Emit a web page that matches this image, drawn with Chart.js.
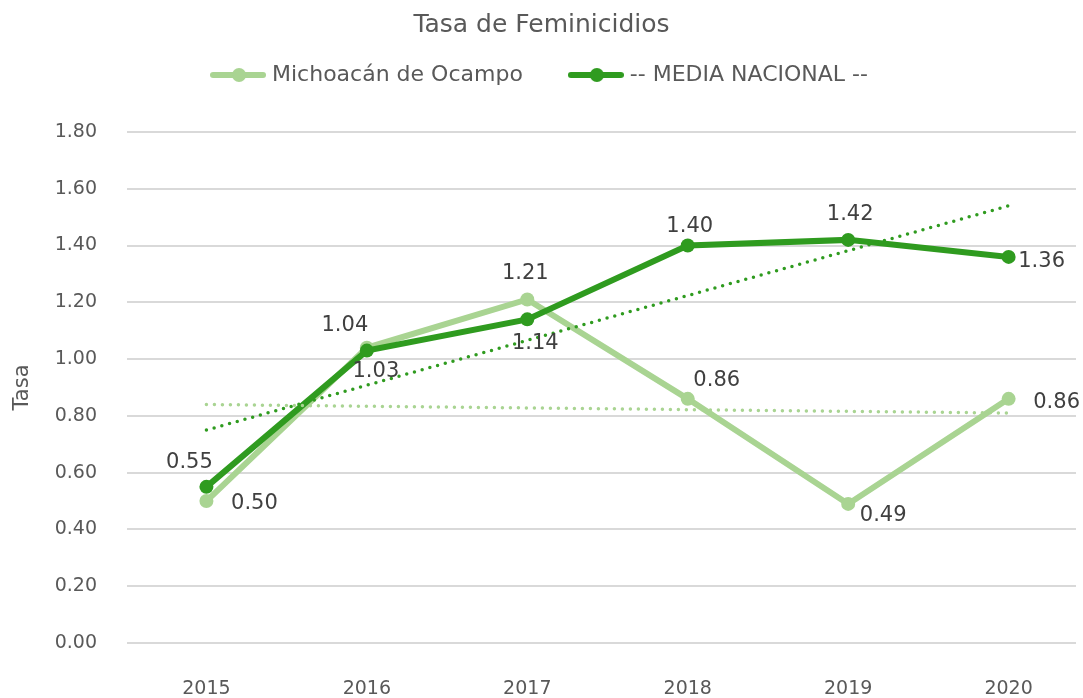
<!DOCTYPE html>
<html>
<head>
<meta charset="utf-8">
<script src="https://cdn.jsdelivr.net/npm/chart.js@4/dist/chart.umd.min.js"></script>
<style>
  html, body { margin: 0; padding: 0; background: #fff; overflow: hidden; }
  #wrap { width: 1083px; height: 698px; }
</style>
</head>
<body>
<div id="wrap"><canvas id="chart"></canvas></div>
<script>
// datos
const years = ['2015', '2016', '2017', '2018', '2019', '2020'];
const michoacan = [0.50, 1.04, 1.21, 0.86, 0.49, 0.86];
const mediaNacional = [0.55, 1.03, 1.14, 1.40, 1.42, 1.36];
// lineas de tendencia (extremos 2015 y 2020)
const trendMichoacan = [0.84, 0.81];
const trendNacional = [0.75, 1.54];
const yTicks = [0, 0.2, 0.4, 0.6, 0.8, 1.0, 1.2, 1.4, 1.6, 1.8];

const LIGHT = '#a9d492';
const DARK = '#2f9b1f';
const FONT = '"DejaVu Sans", sans-serif';
const TEXT = '#595959';

const toPoints = arr => arr.map((v, i) => ({ x: i, y: v }));
const trendPoints = arr => [{ x: 0, y: arr[0] }, { x: years.length - 1, y: arr[1] }];

// muestra de leyenda: linea con punto
function legendSample(color) {
    const c = document.createElement('canvas');
    c.width = 56; c.height = 16;
    const g = c.getContext('2d');
    g.strokeStyle = color;
    g.lineWidth = 6;
    g.lineCap = 'round';
    g.beginPath(); g.moveTo(3, 8); g.lineTo(53, 8); g.stroke();
    g.fillStyle = color;
    g.beginPath(); g.arc(29, 8, 7, 0, Math.PI * 2); g.fill();
    return c;
}

// etiquetas de valores junto a cada punto
const valueLabels = {
    id: 'valueLabels',
    afterDatasetsDraw(chart) {
        const ctx = chart.ctx;
        ctx.save();
        ctx.font = '21px ' + FONT;
        ctx.fillStyle = '#404040';
        ctx.textAlign = 'center';
        ctx.textBaseline = 'middle';
        chart.data.datasets.forEach((ds, di) => {
            if (!ds.labelOffsets) return;
            const meta = chart.getDatasetMeta(di);
            meta.data.forEach((el, i) => {
                const [dx, dy] = ds.labelOffsets[i];
                ctx.fillText(ds.data[i].y.toFixed(2), el.x + dx, el.y + dy);
            });
        });
        ctx.restore();
    }
};

// sube la leyenda hacia el titulo sin cambiar el area del grafico
const legendShift = {
    id: 'legendShift',
    afterLayout(chart) {
        const lg = chart.legend;
        if (!lg) return;
        lg.top -= 36;
        lg.bottom -= 36;
    }
};

new Chart(document.getElementById('chart'), {
    type: 'line',
    data: {
        datasets: [
            {
                label: 'Michoacán de Ocampo',
                data: toPoints(michoacan),
                borderColor: LIGHT,
                backgroundColor: LIGHT,
                borderWidth: 6,
                pointRadius: 7,
                pointBorderWidth: 0,
                pointStyle: 'circle',
                order: 2,
                legendImg: legendSample(LIGHT),
                labelOffsets: [[48, 2], [-22, -22], [-2, -26], [29, -18], [35, 12], [48, 4]]
            },
            {
                label: '-- MEDIA NACIONAL --',
                data: toPoints(mediaNacional),
                borderColor: DARK,
                backgroundColor: DARK,
                borderWidth: 6,
                pointRadius: 7,
                pointBorderWidth: 0,
                pointStyle: 'circle',
                order: 1,
                legendImg: legendSample(DARK),
                labelOffsets: [[-17, -24], [9, 21], [8, 24], [2, -19], [2, -25], [33, 5]]
            },
            {
                label: 'trendM',
                data: trendPoints(trendMichoacan),
                borderColor: LIGHT,
                borderWidth: 3.5,
                borderDash: [0, 8],
                borderCapStyle: 'round',
                pointRadius: 0,
                order: 0
            },
            {
                label: 'trendN',
                data: trendPoints(trendNacional),
                borderColor: DARK,
                borderWidth: 3.5,
                borderDash: [0, 8],
                borderCapStyle: 'round',
                pointRadius: 0,
                order: 0
            }
        ]
    },
    options: {
        responsive: true,
        maintainAspectRatio: false,
        animation: false,
        layout: { padding: { left: 0, right: 0, top: 0, bottom: 0 } },
        plugins: {
            title: {
                display: true,
                text: 'Tasa de Feminicidios',
                color: TEXT,
                font: { family: FONT, size: 25, weight: 'normal' },
                padding: { top: 10, bottom: 10 }
            },
            legend: {
                display: true,
                labels: {
                    color: TEXT,
                    font: { family: FONT, size: 22 },
                    usePointStyle: true,
                    pointStyleWidth: 46,
                    padding: 50,
                    generateLabels(chart) {
                        return chart.data.datasets.slice(0, 2).map((ds, i) => ({
                            text: ds.label,
                            pointStyle: ds.legendImg,
                            fontColor: TEXT,
                            strokeStyle: ds.borderColor,
                            fillStyle: ds.borderColor,
                            lineWidth: 0,
                            hidden: false,
                            datasetIndex: i
                        }));
                    }
                }
            },
            tooltip: { enabled: false }
        },
        scales: {
            x: {
                type: 'linear',
                min: -0.495,
                max: 5.42,
                grid: { display: false, drawTicks: false },
                border: { display: false },
                afterBuildTicks: scale => {
                    scale.ticks = years.map((y, i) => ({ value: i }));
                },
                afterFit: scale => { scale.height = 55; },
                ticks: {
                    color: TEXT,
                    font: { family: FONT, size: 19 },
                    padding: 35,
                    autoSkip: false,
                    maxRotation: 0,
                    callback: v => years[v]
                }
            },
            y: {
                min: 0,
                max: 1.8,
                grid: { color: '#d9d9d9', lineWidth: 2, drawTicks: false },
                border: { display: false },
                afterBuildTicks: scale => {
                    scale.ticks = yTicks.map(v => ({ value: v }));
                },
                afterFit: scale => { scale.width = 127; },
                ticks: {
                    color: TEXT,
                    font: { family: FONT, size: 19 },
                    padding: 30,
                    callback: v => v.toFixed(2)
                },
                title: {
                    display: true,
                    text: 'Tasa',
                    color: TEXT,
                    font: { family: FONT, size: 21 },
                    padding: { top: 10, bottom: 0 }
                }
            }
        }
    },
    plugins: [valueLabels, legendShift]
});
</script>
</body>
</html>
